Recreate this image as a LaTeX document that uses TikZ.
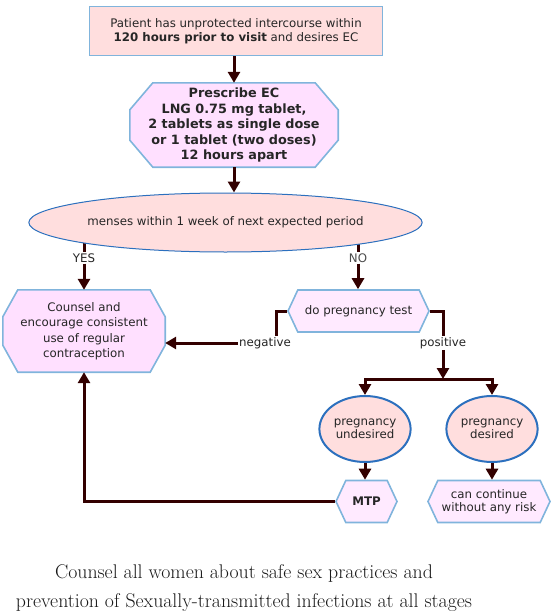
\documentclass[tikz,border=0pt]{standalone}
\usepackage{fontspec}
\newfontfamily\chartfont{DejaVu Sans}
\usetikzlibrary{arrows.meta,shapes.geometric,shapes.symbols,positioning,backgrounds}

\definecolor{boxpink}{HTML}{FFDEDE}
\definecolor{octpink}{HTML}{FFE0FF}
\definecolor{hexpink}{HTML}{FFEAFF}
\definecolor{edgeblue}{HTML}{80B4DC}
\definecolor{ringblue}{HTML}{2C70BE}
\definecolor{flowbrown}{HTML}{330000}

\tikzset{
  chart/.style={font=\chartfont\fontsize{11.8}{13.5}\selectfont, text=black!85, align=center, inner sep=1pt},
  topbox/.style={chart, rectangle, draw=edgeblue, line width=1.6pt, fill=boxpink},
  octbox/.style={chart, rectangle, font=\chartfont\fontsize{11.8}{15.5}\selectfont},
  octline/.style={draw=edgeblue, line width=1.6pt, fill=octpink, line join=miter},
  hexbox/.style={chart, signal, signal to=west and east, signal pointer angle=130,
    draw=edgeblue, line width=1.6pt, fill=hexpink, minimum height=42pt},
  oval/.style={chart, ellipse, draw=ringblue, line width=1pt, fill=boxpink},
  ring/.style={chart, ellipse, draw=ringblue, line width=2pt, fill=boxpink,
    minimum width=76pt, minimum height=66pt},
  lbl/.style={chart, fill=white, inner sep=1pt},
  link/.style={draw=flowbrown, line width=3pt, line join=miter},
  flow/.style={link, -{Triangle[width=12pt,length=11pt]}},
}

% octagon round a rectangular node: node, corner cut across, corner cut down
\newcommand\octframe[3]{%
  \draw[octline] ([xshift=#2]#1.north west) -- ([xshift=-#2]#1.north east)
    -- ([yshift=-#3]#1.north east) -- ([yshift=#3]#1.south east)
    -- ([xshift=-#2]#1.south east) -- ([xshift=#2]#1.south west)
    -- ([yshift=#3]#1.south west) -- ([yshift=-#3]#1.north west) -- cycle;}

\begin{document}
\begin{tikzpicture}[x=1pt,y=-1pt]
\useasboundingbox (0,0) rectangle (555,613);

% boxes
\node[topbox, minimum width=293pt, minimum height=49pt] (visit) at (236,31)
  {Patient has unprotected intercourse within\\\textbf{120 hours prior to visit} and desires EC};
\node[octbox, minimum width=208pt, minimum height=84pt,
  font=\chartfont\bfseries\fontsize{12.8}{15.5}\selectfont] (rx) at (234,125)
  {Prescribe EC\\LNG 0.75 mg tablet,\\2 tablets as single dose\\
   or 1 tablet (two doses)\\12 hours apart};
\node[oval, minimum width=331pt, minimum height=59pt] (menses) at (225.5,222.5)
  {menses within 1 week of next expected period};
\node[octbox, minimum width=162pt, minimum height=82pt] (counsel) at (84,331)
  {Counsel and\\encourage consistent\\use of regular\\contraception};
\node[hexbox, minimum width=141pt] (test) at (358.5,311) {do pregnancy test};

% labels on the lines
\node[lbl] (yes) at (84,258) {YES};
\node[lbl, text=black!70] (no) at (358,258) {NO};
\node[lbl] (neg) at (265,343) {negative};
\node[lbl] (pos) at (443,343) {positive};

\node[ring] (undes) at (365,429) {pregnancy\\undesired};
\node[ring] (des) at (492,429) {pregnancy\\desired};
\node[hexbox, minimum width=61pt, font=\chartfont\bfseries\fontsize{11.8}{13.5}\selectfont] (mtp) at (366.5,501.5) {MTP};
\node[hexbox, minimum width=122pt] (cont) at (489,501.5) {can continue\\without any risk};

\node[align=center, font=\fontsize{19.8}{29}\selectfont, text=black!90] (note) at (244,588)
  {Counsel all women about safe sex practices and\\
   prevention of Sexually-transmitted infections at all stages};

\coordinate (negbend) at (276,311);
\coordinate (split) at (443,379);

\begin{scope}[on background layer]
  \octframe{rx}{23pt}{27pt}
  \octframe{counsel}{15pt}{27pt}
  \draw[link] (menses.center -| yes.north) -- (yes.north);
  \draw[link] (menses.center -| no.north) -- (no.north);
\end{scope}

% connectors
\draw[flow] (rx.north |- visit.south) -- (rx.north);
\draw[flow] (rx.south) -- (rx.south |- menses.north);
\draw[flow] (yes.south) -- (counsel.north);
\draw[flow] (no.south) -- (no.south |- test.north);
\draw[link] (test.west) -- (negbend) -- (negbend |- neg.north);
\draw[flow] (neg.west) -- (neg.west -| counsel.east);
\draw[link] (test.east) -| (pos.north);
\draw[flow] (pos.south) -- (split);
\draw[flow] (split) -| (undes.north);
\draw[flow] (split) -| (des.north);
\draw[flow] (undes.south) -- (undes.south |- mtp.north);
\draw[flow] (des.south) -- (des.south |- cont.north);
\draw[flow] (mtp.west) -| (counsel.south);
\end{tikzpicture}
\end{document}
